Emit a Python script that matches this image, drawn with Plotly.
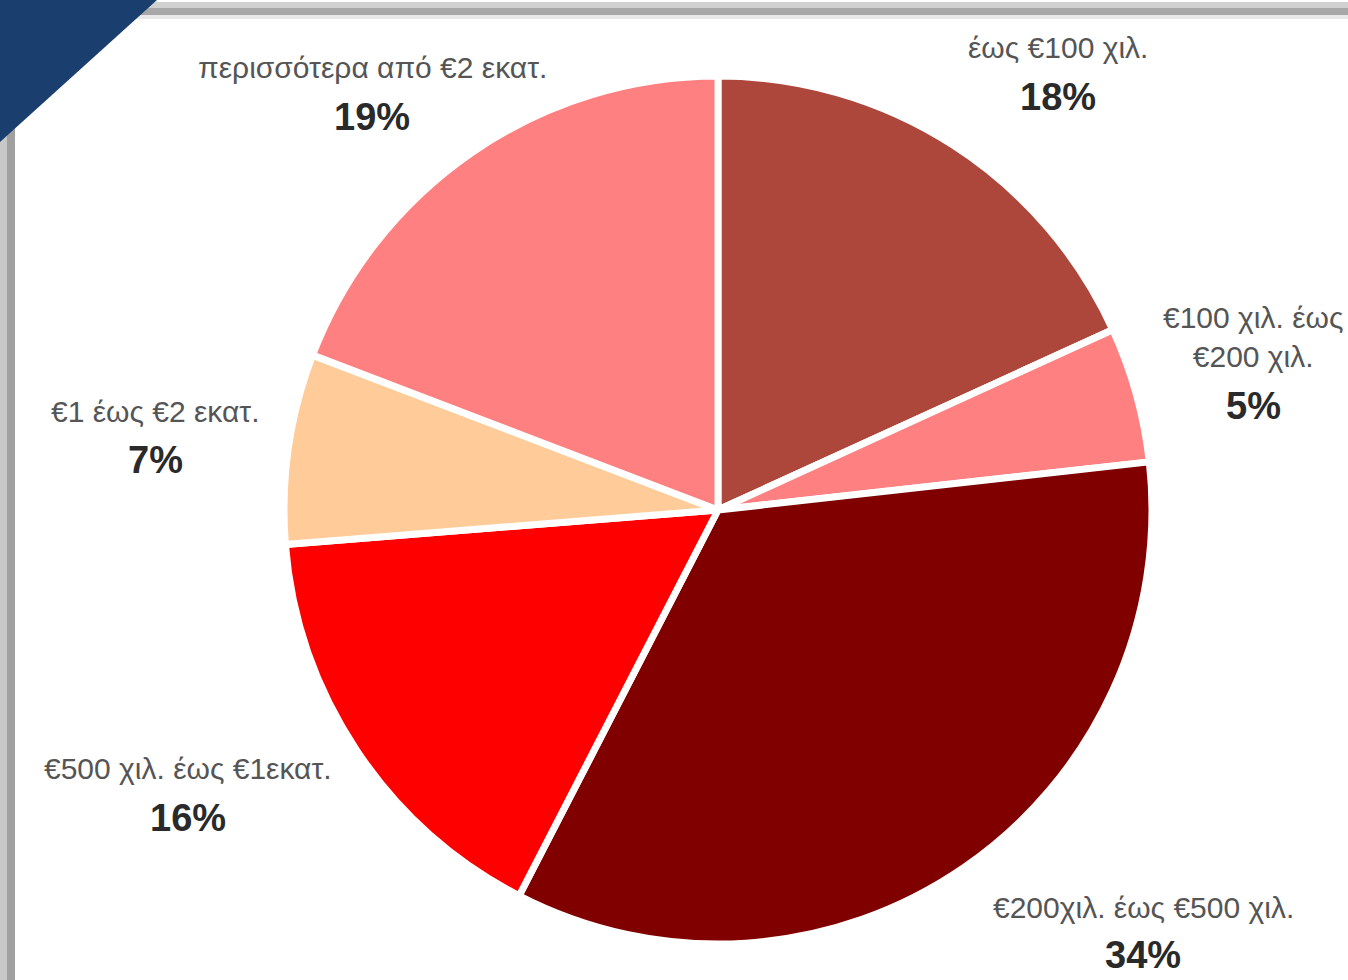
import plotly.graph_objects as go

# ---- data ----
labels = [
    "έως €100 χιλ.",
    "€100 χιλ. έως<br>€200 χιλ.",
    "€200χιλ. έως €500 χιλ.",
    "€500 χιλ. έως €1εκατ.",
    "€1 έως €2 εκατ.",
    "περισσότερα από €2 εκατ.",
]
values = [18, 5, 34, 16, 7, 19]
colors = ["#AD473B", "#FF8080", "#800000", "#FF0000", "#FFCC99", "#FF8080"]

# label anchor positions (pixels in the 1348x980 page): name-line centre x, name y, pct y
label_pos = [
    (1058, 47, 97),
    (1253, 337, 406),
    (1143, 907, 955),
    (188, 768, 818),
    (155, 412, 460),
    (372, 68, 117),
]

W, H = 1348, 980
cx, cy, r = 718, 510, 434

fig = go.Figure(
    go.Pie(
        labels=labels,
        values=values,
        sort=False,
        direction="clockwise",
        rotation=0,
        marker=dict(colors=colors, line=dict(color="white", width=7)),
        textinfo="none",
        hoverinfo="label+percent",
        showlegend=False,
        domain=dict(
            x=[(cx - r) / W, (cx + r) / W],
            y=[1 - (cy + r) / H, 1 - (cy - r) / H],
        ),
    )
)

annotations = []
for lab, val, (x, yn, yp) in zip(labels, values, label_pos):
    annotations.append(dict(
        x=x / W, y=1 - yn / H, xref="paper", yref="paper",
        text=lab, showarrow=False, xanchor="center", yanchor="middle",
        font=dict(family="Liberation Sans, Arial", size=30, color="#555555"),
    ))
    annotations.append(dict(
        x=x / W, y=1 - yp / H, xref="paper", yref="paper",
        text=f"<b>{val}%</b>", showarrow=False, xanchor="center", yanchor="middle",
        font=dict(family="Liberation Sans, Arial", size=38, color="#2A2A2A"),
    ))

shapes = [
    # top border band
    dict(type="rect", xref="paper", yref="paper", x0=0, x1=1, y0=1 - 8 / H, y1=1 - 2 / H,
         fillcolor="#D0D0D0", line=dict(width=0), layer="above"),
    dict(type="rect", xref="paper", yref="paper", x0=0, x1=1, y0=1 - 15 / H, y1=1 - 8 / H,
         fillcolor="#A8A8A8", line=dict(width=0), layer="above"),
    dict(type="rect", xref="paper", yref="paper", x0=0, x1=1, y0=1 - 19 / H, y1=1 - 15 / H,
         fillcolor="#E8E8E8", line=dict(width=0), layer="above"),
    # left border band
    dict(type="rect", xref="paper", yref="paper", x0=0, x1=7 / W, y0=0, y1=1,
         fillcolor="#C8C8C8", line=dict(width=0), layer="above"),
    dict(type="rect", xref="paper", yref="paper", x0=7 / W, x1=15 / W, y0=0, y1=1,
         fillcolor="#A0A0A0", line=dict(width=0), layer="above"),
    # navy corner triangle
    dict(type="path", xref="paper", yref="paper",
         path=f"M 0 1 L {157 / W} 1 L 0 {1 - 142 / H} Z",
         fillcolor="#1A3E6E", line=dict(width=0), layer="above"),
]

fig.update_layout(
    width=W, height=H,
    margin=dict(l=0, r=0, t=0, b=0),
    paper_bgcolor="white",
    plot_bgcolor="white",
    annotations=annotations,
    shapes=shapes,
)

fig.write_html(
    "out.html",
    config={"displayModeBar": False},
    post_script="document.body.style.margin='0';document.body.style.overflow='hidden';",
)
